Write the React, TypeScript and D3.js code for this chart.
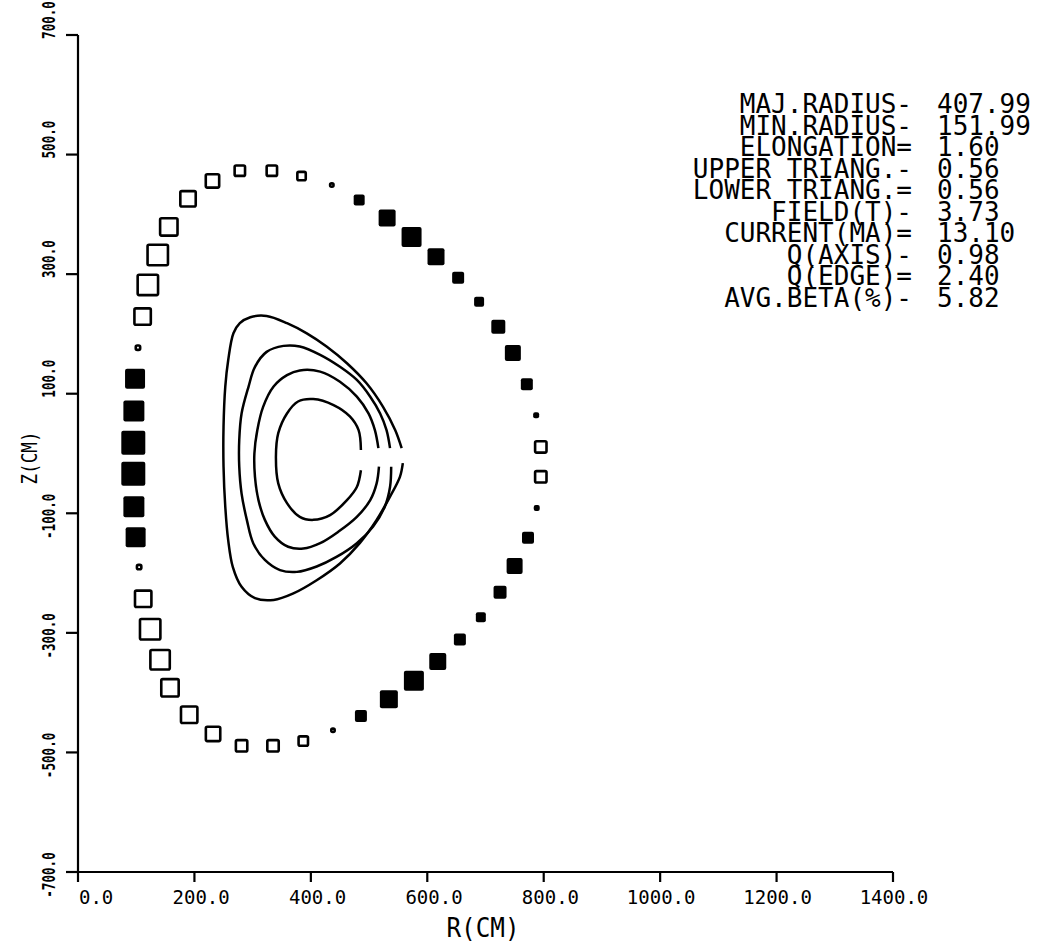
import React from "react";
import * as d3 from "d3";

// ---------------- coil set (R, Z in cm; current in MA, filled = positive) ----------------
const coilR = [231, 278, 333, 384, 436, 483, 531, 573, 615, 653, 689, 722, 747, 771, 787, 795, 795, 788, 773, 750,
  725, 692, 656, 618, 577, 534, 486, 438, 387, 335, 281, 232, 191, 158, 141, 124, 112, 105, 99, 96,
  95, 95, 96, 98, 103, 111, 120, 137, 156, 189];
const coilZ = [456, 473, 473, 464, 449, 424, 394, 362, 329, 294, 254, 212, 168, 116, 64, 11, -39, -91, -141, -188,
  -232, -274, -311, -348, -380, -411, -439, -463, -481, -489, -489, -469, -437, -392, -345, -294, -243, -190, -140, -89,
  -34, 18, 71, 125, 177, 229, 282, 332, 379, 426];
const coilI = [-8, -6.5, -6.5, -5.5, -3, 5.5, 8.5, 10, 8.5, 6, 5, 7, 8, 6, 3, -7, -7, 3, 6, 8,
  6.5, 5, 6, 8.5, 10, 9, 6, -3, -6, -7, -7, -8.5, -9.5, -10, -11, -11.5, -9.5, -3.5, 10, 10.5,
  12, 12, 10.5, 10, -3.5, -9.5, -11.5, -11.5, -10, -9];

// ---------------- flux contours ----------------
const c1R = [556, 545, 524, 496, 462, 427, 393, 359, 324, 296, 278, 267, 258, 253, 250, 250, 253, 258, 266, 281, 304, 336, 370, 410, 450, 484, 513, 536, 553, 558];
const c1Z = [9, 39, 78, 117, 151, 179, 201, 218, 230, 228, 218, 201, 156, 112, 45, -22, -89, -145, -190, -223, -242, -245, -234, -212, -184, -150, -111, -72, -39, -16];
const c2R = [536, 530, 519, 502, 479, 450, 416, 381, 353, 324, 304, 293, 281, 277, 277, 281, 290, 301, 321, 347, 376, 410, 444, 479, 507, 527, 536, 538];
const c2Z = [9, 39, 67, 95, 123, 145, 165, 179, 180, 170, 145, 112, 67, 23, -22, -67, -111, -150, -178, -195, -198, -189, -173, -150, -122, -89, -56, -22];
const c3R = [516, 510, 499, 479, 450, 416, 381, 359, 336, 318, 308, 303, 304, 310, 321, 338, 361, 387, 416, 447, 479, 502, 513, 517];
const c3Z = [9, 39, 67, 95, 120, 137, 139, 131, 112, 78, 39, 0, -39, -78, -111, -139, -156, -159, -150, -131, -106, -78, -50, -22];
const c4R = [486, 482, 467, 439, 404, 378, 359, 344, 340, 344, 359, 381, 404, 433, 462, 479, 486];
const c4Z = [6, 39, 62, 81, 91, 87, 67, 34, -5, -50, -83, -106, -111, -103, -78, -56, -28];

// ---------------- axes + parameter table ----------------
const xTicks = [0, 200, 400, 600, 800, 1000, 1200, 1400];
const yTicks = [700, 500, 300, 100, -100, -300, -500, -700];
const paramLabels = ["MAJ.RADIUS-", "MIN.RADIUS-", "ELONGATION=", "UPPER TRIANG.-", "LOWER TRIANG.=",
  "FIELD(T)-", "CURRENT(MA)=", "Q(AXIS)-", "Q(EDGE)=", "AVG.BETA(%)-"];
const paramValues = ["407.99", "151.99", "1.60", "0.56", "0.56", "3.73", "13.10", "0.98", "2.40", "5.82"];

const W = 1041;
const H = 951;
const FONT = "'DejaVu Sans Mono', monospace";

export default function App() {
  const x = d3.scaleLinear().domain([0, 1400]).range([78, 893]);
  const y = d3.scaleLinear().domain([-700, 700]).range([872, 35]);
  const side = d3.scaleLinear().domain([0, 12]).range([0, 24]);

  const line = d3
    .line<[number, number]>()
    .x(d => x(d[0]))
    .y(d => y(d[1]))
    .curve(d3.curveCatmullRom.alpha(0.5));

  const contours = [
    [c1R, c1Z],
    [c2R, c2Z],
    [c3R, c3Z],
    [c4R, c4Z],
  ].map(([r, z]) => r.map((v, i) => [v, z[i]] as [number, number]));

  const coils = coilR.map((r, i) => ({ r, z: coilZ[i], cur: coilI[i] }));

  return (
    <svg width={W} height={H} style={{ position: "absolute", left: 0, top: 0, background: "#fff" }}>
      {/* axes */}
      <g stroke="#000" strokeWidth={2.2} fill="none">
        <line x1={x(0)} x2={x(1400)} y1={y(-700)} y2={y(-700)} />
        <line x1={x(0)} x2={x(0)} y1={y(700)} y2={y(-700)} />
        {xTicks.map(t => (
          <line key={"xt" + t} x1={x(t)} x2={x(t)} y1={y(-700)} y2={y(-700) + 10} />
        ))}
        {yTicks.map(t => (
          <line key={"yt" + t} x1={x(0) - 12} x2={x(0)} y1={y(t)} y2={y(t)} />
        ))}
      </g>

      {/* tick labels */}
      <g fontFamily={FONT} fill="#000">
        {xTicks.map(t => (
          <text
            key={"xl" + t}
            x={x(t) + 1}
            y={904}
            fontSize={19}
            textAnchor="middle"
            xmlSpace="preserve"
            style={{ whiteSpace: "pre" }}
          >
            {t.toFixed(1).padStart(6, " ")}
          </text>
        ))}
        {yTicks.map(t => {
          const s = t.toFixed(1);
          const cy = y(t) + (t > 0 ? -15 : 3);
          return (
            <text
              key={"yl" + t}
              transform={`translate(55,${cy}) rotate(-90) scale(0.7,1)`}
              fontSize={18}
              fontWeight="bold"
              textAnchor="middle"
            >
              {s}
            </text>
          );
        })}
        <text transform="translate(37,458) rotate(-90) scale(0.8,1)" fontSize={22} textAnchor="middle">
          Z(CM)
        </text>
        <text transform="translate(483,937) scale(0.9,1)" fontSize={27} textAnchor="middle">
          R(CM)
        </text>
      </g>

      {/* flux surfaces */}
      <g fill="none" stroke="#000" strokeWidth={2.5}>
        {contours.map((c, i) => (
          <path key={"c" + i} d={line(c) ?? ""} />
        ))}
      </g>

      {/* coils */}
      <g>
        {coils.map((c, i) => {
          const s = side(Math.abs(c.cur));
          if (c.cur > 0) {
            return (
              <rect key={"k" + i} x={x(c.r) - s / 2} y={y(c.z) - s / 2} width={s} height={s} rx={2} fill="#000" />
            );
          }
          const sw = 2.6;
          const inner = Math.max(s - sw, 2);
          return (
            <rect
              key={"k" + i}
              x={x(c.r) - inner / 2}
              y={y(c.z) - inner / 2}
              width={inner}
              height={inner}
              rx={1.5}
              fill="none"
              stroke="#000"
              strokeWidth={sw}
            />
          );
        })}
      </g>

      {/* parameter table */}
      <g fontFamily={FONT} fontSize={26} fill="#000">
        {paramLabels.map((l, i) => (
          <text key={"pl" + i} x={912} y={113 + i * 21.5} textAnchor="end" xmlSpace="preserve" style={{ whiteSpace: "pre" }}>
            {l}
          </text>
        ))}
        {paramValues.map((v, i) => (
          <text key={"pv" + i} x={937} y={113 + i * 21.5} textAnchor="start">
            {v}
          </text>
        ))}
      </g>
    </svg>
  );
}
